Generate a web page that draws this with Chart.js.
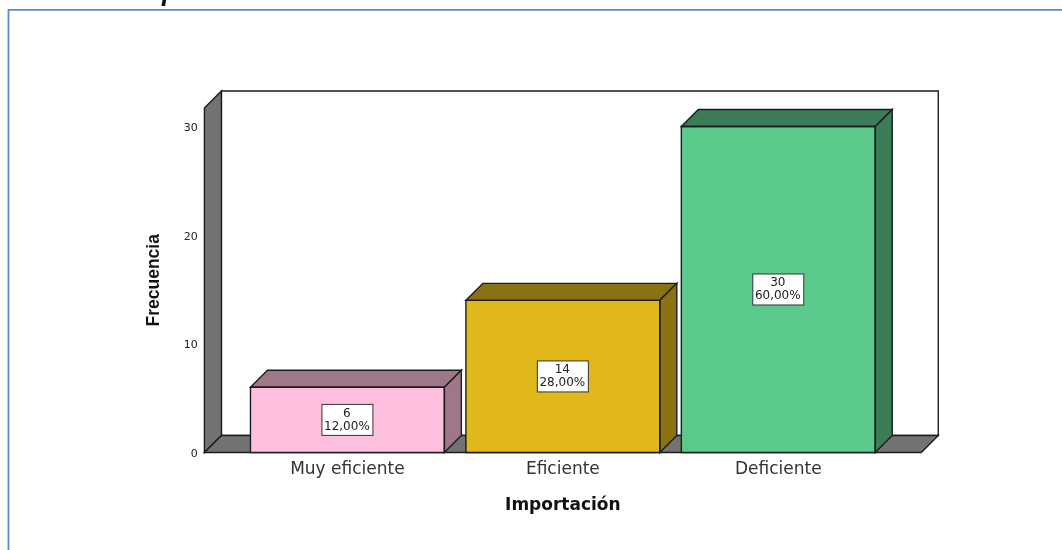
<!DOCTYPE html>
<html><head><meta charset="utf-8">
<style>
html,body{margin:0;padding:0;background:#fff;overflow:hidden}
#wrap{position:absolute;left:0;top:0;width:1062px;height:550px}
</style>
<script src="https://cdn.jsdelivr.net/npm/chart.js@4"></script>
</head><body><div id="wrap"><canvas id="c" width="1062" height="550"></canvas></div>
<script>
const categories = ['Muy eficiente','Eficiente','Deficiente'];
const frequencies = [6,14,30];
const percentLabels = ['12,00%','28,00%','60,00%'];
const frontColors = ['#FFC0E0','#E0B81A','#5CC98C'];
const sideColors = ['#9E7888','#8A7214','#3A7D56'];
const yTicks = [0,10,20,30];
const yTitle = 'Frecuencia';
const xTitle = 'Importación';
const headerText = 'Variable Importación';
const D = 17;
const EDGE = '#1c1c1c';
const WIDE = '"DejaVu Sans", sans-serif';

function poly(ctx, pts, fill){
  ctx.beginPath();
  pts.forEach((p,i)=> i?ctx.lineTo(p[0],p[1]):ctx.moveTo(p[0],p[1]));
  ctx.closePath();
  if(fill){ctx.fillStyle=fill;ctx.fill();}
  ctx.lineWidth=1.4;ctx.strokeStyle=EDGE;ctx.stroke();
}
const frame3d = {
  id:'frame3d',
  beforeDraw(chart){
    const ctx=chart.ctx, y=chart.scales.y, x=chart.scales.x;
    ctx.save();
    ctx.fillStyle='#fff';ctx.fillRect(0,0,1062,550);
    ctx.strokeStyle='#5B8BC4';ctx.lineWidth=1.8;
    ctx.beginPath();ctx.moveTo(8.5,552);ctx.lineTo(8.5,9.8);ctx.lineTo(1064,9.8);ctx.stroke();
    ctx.fillStyle='#111';ctx.font='italic 700 27px "Liberation Sans", sans-serif';
    ctx.textAlign='left';ctx.textBaseline='alphabetic';
    ctx.fillText(headerText,19,0);
    const l=x.getPixelForValue(0)-143, r=x.getPixelForValue(2)+143;
    const t=y.top, b=y.bottom;
    poly(ctx,[[l+D,t-D],[r+D,t-D],[r+D,b-D],[l+D,b-D]],'#fff');
    poly(ctx,[[l,t],[l+D,t-D],[l+D,b-D],[l,b]],'#737373');
    poly(ctx,[[l,b],[l+D,b-D],[r+D,b-D],[r,b]],'#737373');
    ctx.restore();
  },
  afterDatasetsDraw(chart){
    const ctx=chart.ctx, meta=chart.getDatasetMeta(0);
    ctx.save();
    meta.data.forEach((bar,i)=>{
      const w=bar.width/2, L=bar.x-w, R=bar.x+w, T=bar.y, B=bar.base;
      poly(ctx,[[L,T],[L+D,T-D],[R+D,T-D],[R,T]],sideColors[i]);
      poly(ctx,[[R,T],[R+D,T-D],[R+D,B-D],[R,B]],sideColors[i]);
      poly(ctx,[[L,T],[R,T],[R,B],[L,B]],null);
      const cy=(T+B)/2, bw=51, bh=31;
      ctx.fillStyle='#fff';ctx.fillRect(bar.x-bw/2,cy-bh/2,bw,bh);
      ctx.lineWidth=1;ctx.strokeStyle='#333';ctx.strokeRect(bar.x-bw/2,cy-bh/2,bw,bh);
      ctx.fillStyle='#222';ctx.font='12px '+WIDE;
      ctx.textAlign='center';ctx.textBaseline='middle';
      ctx.fillText(String(frequencies[i]),bar.x-0.5,cy-6.5);
      ctx.fillText(percentLabels[i],bar.x-0.5,cy+6.5);
    });
    ctx.restore();
  }
};
new Chart(document.getElementById('c'),{
  type:'bar',
  data:{labels:categories,datasets:[{data:frequencies,backgroundColor:frontColors,borderWidth:0,categoryPercentage:0.9,barPercentage:1}]},
  options:{
    responsive:false,animation:false,
    layout:{padding:{left:141,right:176,top:108,bottom:34.2}},
    plugins:{legend:{display:false},tooltip:{enabled:false}},
    scales:{
      x:{grid:{display:false},border:{display:false},
         ticks:{color:'#333',font:{size:17,family:WIDE},padding:-1,maxRotation:0},
         title:{display:true,text:xTitle,color:'#111',font:{size:17,weight:'bold',family:WIDE},padding:{top:16.5,bottom:0}}},
      y:{min:0,max:31.7,grid:{display:false},border:{display:false},
         afterBuildTicks(s){s.ticks=yTicks.map(v=>({value:v}));},
         afterFit(s){s.width=98.7;},
         ticks:{color:'#222',font:{size:11,family:WIDE},padding:34,labelOffset:1.5},
         title:{display:true,text:yTitle,color:'#111',font:{size:17.5,weight:'bold',family:'"Liberation Sans", Arial, sans-serif'},padding:{top:3,bottom:0}}}
    }
  },
  plugins:[frame3d]
});
</script></body></html>
